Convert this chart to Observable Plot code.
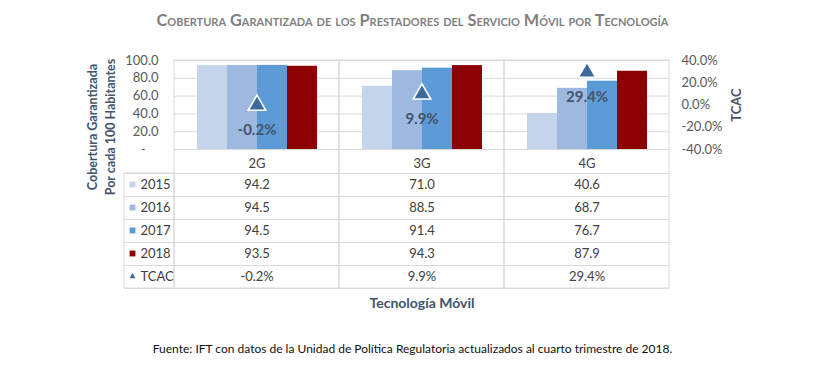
<!DOCTYPE html>
<html>
<head>
<meta charset="utf-8">
<script src="https://cdn.jsdelivr.net/npm/d3@7"></script>
<script src="https://cdn.jsdelivr.net/npm/@observablehq/plot@0.6"></script>
<style>
  body { margin: 0; background: #fff; font-family: Lato, "Open Sans", sans-serif; }
  #title { height: 40px; line-height: 40px; text-align: center; font-weight: bold; font-variant: small-caps; font-size: 16.3px; color: #7F7F7F; }
  #chart svg { display: block; }
  #source { margin-top: 26px; line-height: 16px; text-align: center; font-size: 12px; color: #111; }
</style>
</head>
<body>
<div id="title">Cobertura Garantizada de los Prestadores del Servicio Móvil por Tecnología</div>
<div id="chart"></div>
<div id="source">Fuente: IFT con datos de la Unidad de Política Regulatoria actualizados al cuarto trimestre de 2018.</div>
<script>
const techs = ["2G", "3G", "4G"];
const years = ["2015", "2016", "2017", "2018"];
const v2015 = [94.2, 71.0, 40.6];
const v2016 = [94.5, 88.5, 68.7];
const v2017 = [94.5, 91.4, 76.7];
const v2018 = [93.5, 94.3, 87.9];
const tcac = [-0.2, 9.9, 29.4];
const leftTicks = [0, 20, 40, 60, 80, 100];
const rightTicks = [-40, -20, 0, 20, 40];
const yearColors = ["#C3D4EB", "#9EB9E0", "#5C9BD6", "#8B0000"];

const series = [v2015, v2016, v2017, v2018];
const bars = years.flatMap((y, i) => techs.map((t, j) => ({tech: t, year: y, value: series[i][j]})));
const rates = techs.map((t, j) => ({tech: t, tcac: tcac[j]}));
const toLeft = (p) => (p + 40) / 80 * 100;

const gridColor = "#D9D9D9";
const textColor = "#404040";
const titleColor = "#44546A";
const rowLines = [24, 47, 70, 93, 116, 139];
const rowCenters = [35, 58, 81, 104, 127];

const marks = [];
// gridlines and table frame
marks.push(Plot.ruleY(leftTicks, {stroke: gridColor}));
marks.push(Plot.rect([0], {stroke: gridColor, fill: "none", insetBottom: -139}));
rowLines.forEach((dy) => {
  marks.push(Plot.ruleY([0], {dy, stroke: gridColor}));
  marks.push(Plot.ruleY([0], {fx: () => "2G", dy, stroke: gridColor, insetLeft: -50}));
});
marks.push(Plot.rect([0], {fx: () => "2G", stroke: gridColor, fill: "none", insetLeft: -50, insetRight: 165, insetTop: 113, insetBottom: -139}));

// bars
marks.push(Plot.barY(bars, {fx: "tech", x: "year", y: "value", fill: "year"}));

// TCAC triangles and labels
marks.push(Plot.dot(rates, {fx: "tech", y: (d) => toLeft(d.tcac), symbol: "triangle", r: 6.5, fill: "#3D6A9B", stroke: "white", strokeWidth: 1.6}));
marks.push(Plot.text(rates, {fx: "tech", y: (d) => toLeft(d.tcac), dy: 25, text: (d) => d.tcac.toFixed(1) + "%", fontWeight: "bold", fontSize: 15, fill: titleColor}));

// axes
marks.push(Plot.axisY(leftTicks, {anchor: "left", tickSize: 0, tickPadding: 16, label: null, tickFormat: (d) => d === 0 ? "-\u2002\u2002" : d.toFixed(1), fill: "#595959"}));
marks.push(Plot.axisY(rightTicks, {anchor: "right", y: toLeft, tickSize: 0, tickPadding: 12, label: null, tickFormat: (d) => d.toFixed(1) + "%", fill: "#595959"}));

// category row
marks.push(Plot.text(techs, {fx: (d) => d, text: (d) => d, frameAnchor: "bottom", dy: 14, lineAnchor: "middle", fill: textColor}));

// table values
years.forEach((y, i) => {
  marks.push(Plot.text(bars.filter((d) => d.year === y), {fx: "tech", text: (d) => d.value.toFixed(1), frameAnchor: "bottom", dy: rowCenters[i], lineAnchor: "middle", fill: textColor}));
  marks.push(Plot.text([y], {fx: () => "2G", text: (d) => d, frameAnchor: "bottom-left", dx: -34, dy: rowCenters[i], textAnchor: "start", lineAnchor: "middle", fill: textColor}));
  marks.push(Plot.dot([y], {fx: () => "2G", frameAnchor: "bottom-left", dx: -42, dy: rowCenters[i], symbol: "square", r: 3.3, fill: yearColors[i]}));
});
marks.push(Plot.text(rates, {fx: "tech", text: (d) => d.tcac.toFixed(1) + "%", frameAnchor: "bottom", dy: rowCenters[4], lineAnchor: "middle", fill: textColor}));
marks.push(Plot.text(["TCAC"], {fx: () => "2G", text: (d) => d, frameAnchor: "bottom-left", dx: -34, dy: rowCenters[4], textAnchor: "start", lineAnchor: "middle", fill: textColor}));
marks.push(Plot.dot(["TCAC"], {fx: () => "2G", frameAnchor: "bottom-left", dx: -42, dy: rowCenters[4], symbol: "triangle", r: 2.2, fill: "#3D6A9B"}));

// axis titles
marks.push(Plot.text([0], {fx: () => "2G", frameAnchor: "left", dx: -74, dy: 22, rotate: -90, text: () => "Cobertura Garantizada\nPor cada 100 Habitantes", fontWeight: "bold", fontSize: 12.5, lineHeight: 1.45, textAnchor: "middle", lineAnchor: "middle", fill: titleColor}));
marks.push(Plot.text([0], {fx: () => "4G", frameAnchor: "right", dx: 67, rotate: -90, text: () => "TCAC", fontWeight: "bold", fontSize: 13, textAnchor: "middle", lineAnchor: "middle", fill: titleColor}));
marks.push(Plot.text([0], {fx: () => "3G", frameAnchor: "bottom", dy: 154, text: () => "Tecnología Móvil", fontWeight: "bold", fontSize: 14, textAnchor: "middle", lineAnchor: "middle", fill: titleColor}));

const chart = Plot.plot({
  width: 825,
  height: 275,
  marginTop: 20,
  marginBottom: 126 + 40,
  marginLeft: 173,
  marginRight: 155,
  style: {fontFamily: "Lato, 'Open Sans', sans-serif", fontSize: "13px", color: textColor, background: "white"},
  fx: {domain: techs, padding: 0, axis: null, label: null},
  x: {domain: years, paddingInner: 0, paddingOuter: 0.72, axis: null, label: null},
  y: {domain: [0, 100], axis: null, label: null},
  color: {domain: years, range: yearColors},
  marks
});
document.getElementById("chart").append(chart);
</script>
</body>
</html>
